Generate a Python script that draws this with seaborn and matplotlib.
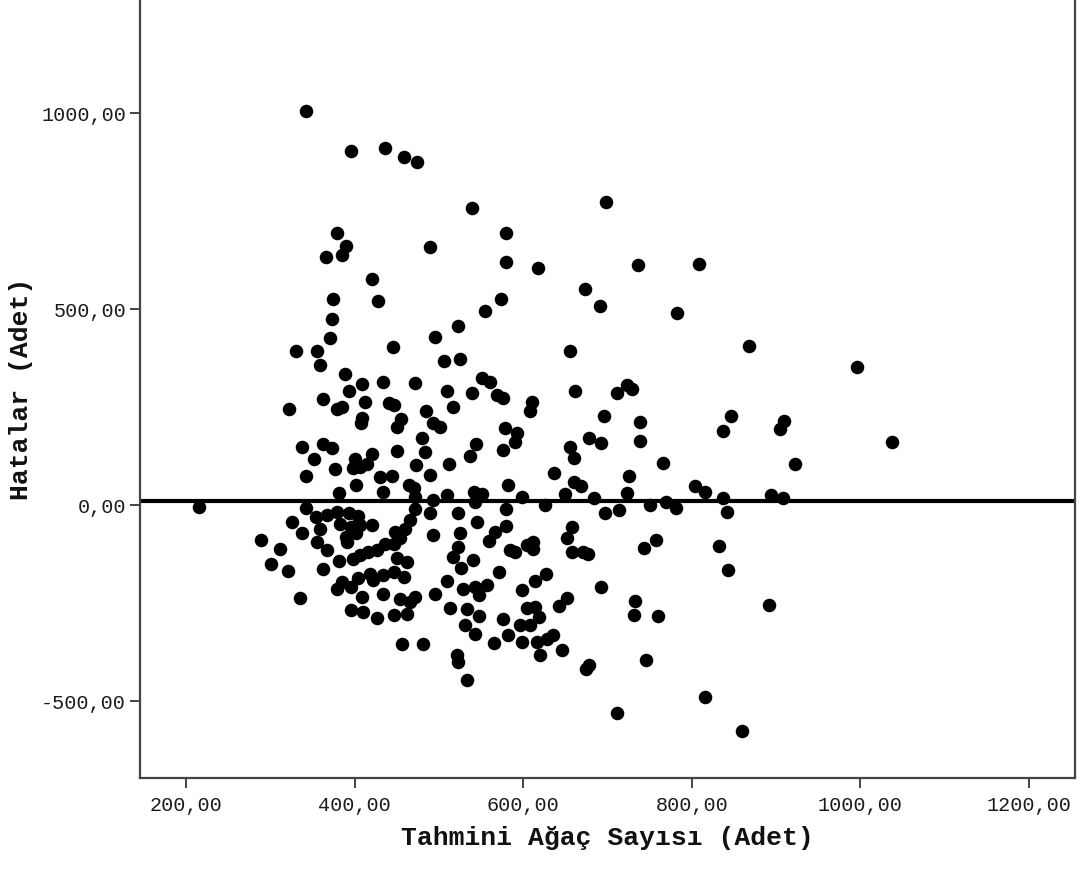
import matplotlib
matplotlib.use("Agg")
import matplotlib.pyplot as plt
import seaborn as sns
import pandas as pd

# ---- data ----
tahmini = [
    342, 395, 436, 459, 474, 379, 389, 366, 385, 489, 421, 374, 428, 373, 371,
    330, 355, 445, 495, 523, 506, 525, 359, 388,
    409, 433, 472, 362, 393, 412, 379, 385, 322, 441, 447, 408, 407, 455, 450,
    485, 493, 501, 480, 483, 450, 421, 400, 398, 406, 414, 362, 373, 337, 351,
    376, 342, 473, 489, 430, 444, 402, 434, 381, 464, 470, 472, 493,
    215, 342, 489, 325, 337, 289, 311, 300, 321, 335, 395, 410, 426, 446, 462,
    456, 481,
    354, 367, 379, 393, 404, 383, 395, 406, 420, 359, 389, 402, 355, 367, 391,
    448, 460, 466, 472, 454, 446, 436, 426, 416, 406, 398, 381, 362, 385, 379,
    395, 404, 418, 422, 434, 446, 458, 450, 462, 408, 434, 454, 466, 472, 495,
    493,
    539, 698, 580, 579, 618, 736, 809, 673, 691, 783, 573, 555, 656, 868,
    551, 561, 509, 539, 569, 576, 516, 661, 711, 723, 729, 610, 608, 578, 592,
    590, 576, 544, 537, 512, 696, 738, 738, 678, 692, 656, 660, 847, 837, 766,
    636, 725, 660, 669, 582, 598, 650, 684, 723, 804, 816, 837, 510, 541, 551,
    543, 626, 580, 697, 714, 751, 770, 781, 842, 523, 545, 525, 523, 559, 567,
    580, 517, 540, 526, 584, 590, 604, 612, 612, 658, 652, 658, 671, 677, 743,
    758, 832, 843, 571, 509, 529, 543, 557, 547, 599, 614, 627, 692, 513, 533,
    547, 576, 604, 614, 619, 642, 652, 733, 732, 760, 531, 543, 565, 582, 596,
    608, 598, 616, 628, 635, 620, 646, 521, 523, 533, 675, 678, 746, 816, 711,
    996, 1038, 910, 905, 922, 894, 908, 892, 860,
]
hatalar = [
    1004, 901, 909, 887, 873, 693, 659, 631, 638, 657, 576, 524, 519, 474, 426,
    392, 392, 403, 428, 455, 367, 371, 357, 333,
    308, 314, 310, 269, 289, 263, 243, 248, 243, 260, 253, 220, 208, 219, 199,
    239, 208, 199, 169, 134, 137, 128, 117, 93, 97, 105, 154, 144, 146, 117,
    91, 73, 101, 76, 71, 73, 50, 33, 31, 50, 43, 20, 13,
    -5, -8, -22, -44, -71, -89, -112, -150, -170, -237, -269, -274, -289, -282, -278,
    -355, -355,
    -31, -27, -18, -22, -28, -48, -56, -52, -52, -61, -82, -73, -95, -116, -95,
    -69, -61, -39, -10, -86, -99, -99, -116, -120, -129, -139, -144, -165, -197, -214,
    -210, -188, -176, -193, -180, -171, -184, -137, -146, -235, -227, -240, -248, -235, -229,
    -78,
    757, 773, 692, 618, 604, 610, 613, 549, 507, 489, 524, 493, 392, 405,
    323, 314, 290, 286, 280, 272, 249, 289, 286, 306, 295, 263, 239, 195, 182,
    161, 140, 154, 125, 103, 227, 210, 163, 171, 157, 146, 120, 226, 188, 107,
    82, 74, 59, 48, 50, 20, 26, 16, 29, 48, 33, 16, 25, 33, 26,
    8, -1, -11, -22, -14, -1, 8, -8, -18, -22, -45, -73, -108, -92, -69,
    -54, -133, -140, -161, -116, -120, -103, -95, -112, -56, -86, -120, -120, -127, -110,
    -90, -106, -167, -171, -195, -214, -210, -205, -231, -217, -194, -177, -210, -263, -267,
    -284, -291, -263, -261, -286, -258, -238, -246, -282, -284, -306, -331, -352, -333, -308,
    -306, -349, -350, -342, -333, -383, -370, -383, -400, -446, -418, -410, -395, -491, -530,
    351, 160, 214, 193, 103, 25, 16, -257, -576,
]
ref_line = 10

x_ticks = [200, 400, 600, 800, 1000, 1200]
x_tick_labels = ["200,00", "400,00", "600,00", "800,00", "1000,00", "1200,00"]
y_ticks = [-500, 0, 500, 1000]
y_tick_labels = ["-500,00", "0,00", "500,00", "1000,00"]
x_title = "Tahmini Ağaç Sayısı (Adet)"
y_title = "Hatalar (Adet)"

df = pd.DataFrame({"x": tahmini, "y": hatalar})

sns.set_theme(style="white")
plt.rcParams["font.family"] = ["Liberation Mono", "DejaVu Sans Mono"]

fig = plt.figure(figsize=(10.92, 8.70), dpi=100)
ax = fig.add_axes([140 / 1092, 91 / 870, 935 / 1092, 779 / 870 + 0.002])

sns.scatterplot(data=df, x="x", y="y", color="black", s=95, linewidth=0,
                ax=ax, zorder=3, legend=False)
ax.axhline(ref_line, color="black", lw=3.0, zorder=2)

ax.set_xlim(145, 1255)
ax.set_ylim(-697, 1294)
ax.set_xticks(x_ticks)
ax.set_xticklabels(x_tick_labels)
ax.set_yticks(y_ticks)
ax.set_yticklabels(y_tick_labels)

for sp in ax.spines.values():
    sp.set_color("#444444")
    sp.set_linewidth(1.6)

ax.tick_params(axis="both", which="major", direction="out", length=7,
               width=1.4, color="#444444", labelsize=14.5, labelcolor="#1a1a1a",
               bottom=True, left=True, top=False, right=False)
ax.tick_params(axis="x", pad=5)
ax.tick_params(axis="y", pad=3)

ax.set_xlabel(x_title, fontsize=19, fontweight="bold", color="#111111", labelpad=8)
ax.set_ylabel(y_title, fontsize=19, fontweight="bold", color="#111111", labelpad=6)

fig.savefig("out.png", dpi=100)
